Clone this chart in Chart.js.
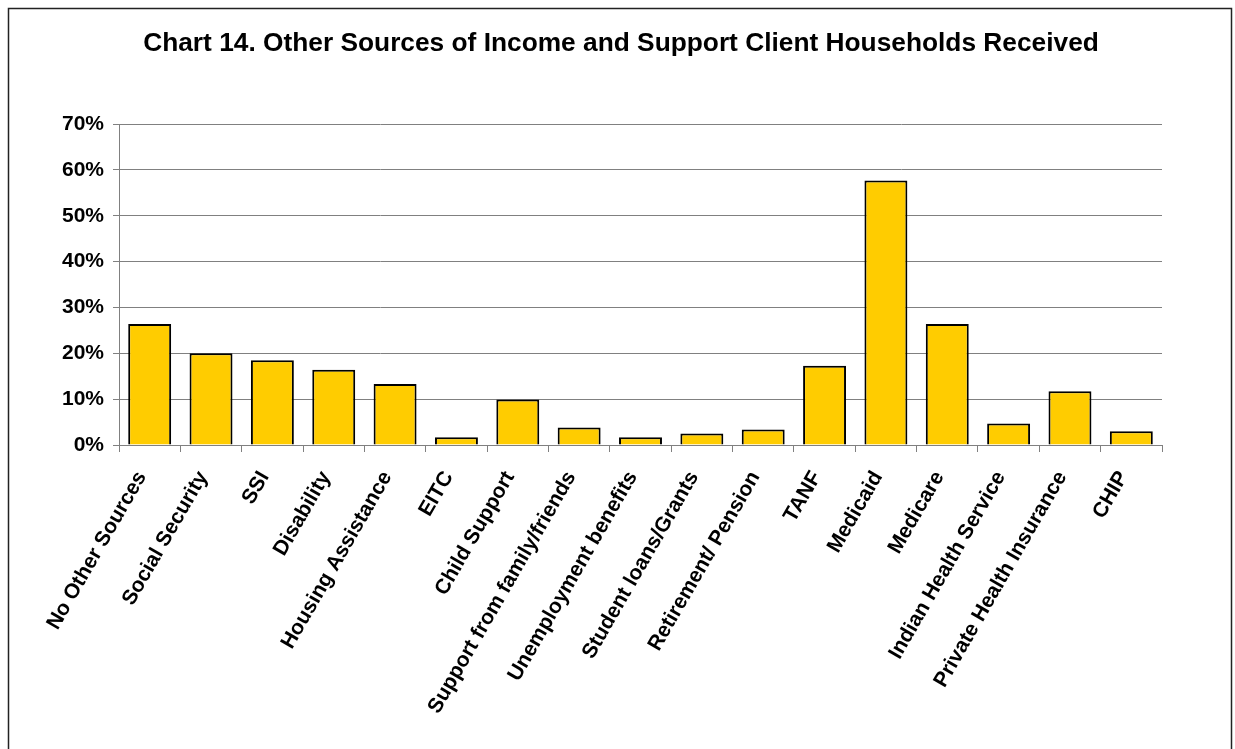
<!DOCTYPE html>
<html>
<head>
<meta charset="utf-8">
<script src="https://cdn.jsdelivr.net/npm/chart.js@4"></script>
<style>
  html, body { margin: 0; padding: 0; background: #fff; }
  #wrap { width: 1235px; height: 749px; }
</style>
</head>
<body>
<div id="wrap"><canvas id="chart" width="1235" height="749"></canvas></div>
<script>
// Income / support sources and share of client households (percent)
const sources = [
    'No Other Sources', 'Social Security', 'SSI', 'Disability', 'Housing Assistance',
    'EITC', 'Child Support', 'Support from family/friends', 'Unemployment benefits',
    'Student loans/Grants', 'Retirement/ Pension', 'TANF', 'Medicaid', 'Medicare',
    'Indian Health Service', 'Private Health Insurance', 'CHIP'
];
const shares = [26.4, 20.0, 18.5, 16.4, 13.3, 1.7, 9.9, 3.8, 1.7, 2.5, 3.4, 17.3, 57.7, 26.4, 4.7, 11.7, 3.0];
const yTicks = [0, 10, 20, 30, 40, 50, 60, 70];
const chartTitle = 'Chart 14. Other Sources of Income and Support Client Households Received';

const FONT = "'Liberation Sans', Arial, sans-serif";

// white background, outer frame and the title centred across the whole frame
const framePlugin = {
    id: 'frame',
    beforeDraw(chart) {
        const ctx = chart.ctx;
        ctx.save();
        ctx.fillStyle = '#fff';
        ctx.fillRect(0, 0, chart.width, chart.height);
        ctx.strokeStyle = '#222';
        ctx.lineWidth = 1.5;
        ctx.strokeRect(8.5, 8.5, 1223, 800);
        ctx.fillStyle = '#000';
        ctx.font = 'bold 26.3px ' + FONT;
        ctx.textAlign = 'center';
        ctx.textBaseline = 'middle';
        ctx.fillText(chartTitle, 621, 44);
        ctx.restore();
    }
};

new Chart(document.getElementById('chart'), {
    type: 'bar',
    data: {
        labels: sources,
        datasets: [{
            data: shares,
            backgroundColor: '#FFCC00',
            borderColor: '#000',
            borderWidth: 2,
            barPercentage: 0.7,
            categoryPercentage: 1.0
        }]
    },
    options: {
        responsive: false,
        devicePixelRatio: 1,
        animation: false,
        layout: { padding: { left: 0, right: 73, top: 124, bottom: 0 } },
        plugins: {
            legend: { display: false },
            tooltip: { enabled: false },
            title: { display: false }
        },
        scales: {
            x: {
                grid: {
                    drawOnChartArea: false,
                    drawTicks: true,
                    tickLength: 7,
                    color: '#808080'
                },
                border: { color: '#808080', width: 1 },
                ticks: {
                    autoSkip: false,
                    minRotation: 60,
                    maxRotation: 60,
                    padding: 15,
                    labelOffset: -8,
                    color: '#000',
                    font: { family: FONT, size: 21, weight: 'bold' }
                },
                afterFit(scale) { scale.height = 304; }
            },
            y: {
                min: 0,
                max: 70,
                afterBuildTicks(scale) {
                    scale.ticks = yTicks.map(v => ({ value: v }));
                },
                grid: {
                    color: '#808080',
                    lineWidth: 1,
                    tickLength: 6
                },
                border: { color: '#808080', width: 1 },
                ticks: {
                    padding: 9,
                    color: '#000',
                    font: { family: FONT, size: 21, weight: 'bold' },
                    callback: v => v + '%'
                },
                afterFit(scale) { scale.width = 119; }
            }
        }
    },
    plugins: [framePlugin]
});
</script>
</body>
</html>
